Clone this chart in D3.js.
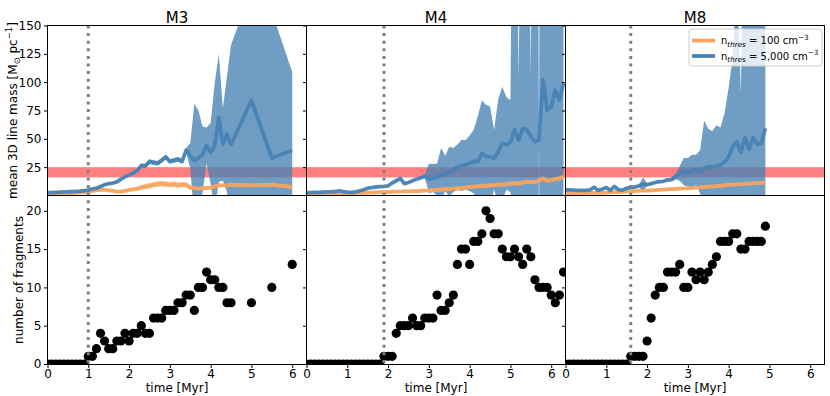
<!DOCTYPE html>
<html>
<head>
<meta charset="utf-8">
<script src="https://cdnjs.cloudflare.com/ajax/libs/d3/7.8.5/d3.min.js"></script>
<style>
  body { margin: 0; background: #fff; }
  svg { font-family: "DejaVu Sans", sans-serif; }
</style>
</head>
<body>
<svg id="chart" width="830" height="396"></svg>
<script>
// three models, one column each
var models = ["M3", "M4", "M8"];
// grey dotted line: onset of fragmentation [Myr]
var onset = [1.0, 1.9, 1.6];
// red band: critical line mass range
var critBand = [16, 25];

var xTicks = [0, 1, 2, 3, 4, 5, 6];
var massTicks = [25, 50, 75, 100, 125, 150];
var fragTicks = [0, 5, 10, 15, 20];

// ---------- M3 ----------
var timeM3 = [0,0.1,0.2,0.3,0.4,0.5,0.6,0.7,0.8,0.9, 1,1.1,1.2,1.3,1.4,1.5,1.6,1.7,1.8,1.9, 2,2.1,2.2,2.3,2.4,2.5,2.6,2.7,2.8,2.9, 3,3.1,3.2,3.3,3.4,3.5,3.6,3.7,3.8,3.9, 4,4.1,4.2,4.3,4.4,4.5, 5,5.5,6];
var massHiM3 = [2.5,2.6,2.8,3,3.2,3.3,3.5,3.7,3.9,4.2, 4.8,5.8,6.5,8,9.5,10.5,11,12,14.5,16.5, 18,20,22,26.5,26,30,29,28.5,31,34, 30,31,32,30,40,35,31,33,36,44, 38,44,69,45,54,45, 84,33,40];
var upperHiM3 = [3.3,3.4,3.6,3.8,4,4.1,4.3,4.5,4.7,5, 5.6,6.6,7.5,9,10.5,11.5,12,13,15.5,17.5, 19,21,23.5,28,28,32,31,30.5,33,36, 32,33,34,32,42,46,81,75,61,60, 64,99,125,77,105,133, 181,162,109];
var lowerHiM3 = [1.7,1.8,2,2.2,2.4,2.5,2.7,2.9,3.1,3.4, 4,5,5.5,7,8.5,9.5,10,11,13.5,15.5, 17,19,20.5,25,24,28,27,26.5,29,32, 28,29,30,28,38,24,-20,-10,2,28, 10,-13,12,13,3,-43, -13,-96,-29];
var massLoM3 = [1.5,1.6,1.7,1.8,1.9,2,2.1,2.3,2.5,2.7, 3,4,4.5,5,5,4.5,4,3.5,3.5,4, 5,5.5,6,7,8,8.5,9.5,10,10.5,10, 9.5,10,9,9.5,9.5,7,6.5,6,6.5,6.5, 7,8,9,9,9,9.5, 9,9.5,7.5];
var upperLoM3 = [2,2.1,2.2,2.3,2.4,2.5,2.6,2.8,3,3.2, 3.8,5,5.5,6,6,5.5,5,4.7,4.7,5.3, 6.5,7,7.8,9,10.3,11,12,12.5,13,12.5, 12,12.5,11.5,12,12,9,8,7.5,8,8, 8.5,9.5,10.5,10.5,10.5,11, 10.5,11,9];
var lowerLoM3 = [1,1.1,1.2,1.3,1.4,1.5,1.6,1.8,2,2.2, 2.2,3,3.5,4,4,3.5,3,2.3,2.3,2.7, 3.5,4,4.2,5,5.7,6,7,7.5,8,7.5, 7,7.5,6.5,7,7,5,5,4.5,5,5, 5.5,6.5,7.5,7.5,7.5,8, 7.5,8,6];
var fragM3 = [0,0,0,0,0,0,0,0,0,0, 1,1,2,4,3,2,2,3,3,4, 3,4,4,5,4,4,6,6,6,7, 7,7,8,8,9,9,7,10,10,12, 11,11,10,10,8,8, 8,10,13];

// ---------- M4 ----------
var timeM4 = [0,0.1,0.2,0.3,0.4,0.5,0.6,0.7,0.8,0.9, 1,1.1,1.2,1.3,1.4,1.5,1.6,1.7,1.8,1.9, 2,2.1,2.2,2.3,2.4,2.5,2.6,2.7,2.8,2.9, 3,3.1,3.2,3.3,3.4,3.5,3.6,3.7,3.8,3.9, 4,4.1,4.2,4.3,4.4,4.5,4.6,4.7,4.8,4.9, 5,5.1,5.2,5.3,5.4,5.5,5.6,5.7,5.8,5.9, 6,6.1,6.2,6.3];
var massHiM4 = [2.5,2.6,2.7,2.8,3,3.2,3.3,3.5,4,3.5, 3,2.8,3.2,4,5,6.5,7,7.5,7.8,8, 8.5,11,13,15,10.5,11.5,13,14.5,15.5,17, 14.5,15.5,16,18,19.5,21,22.5,25,26.5,27, 28.5,30,30,37,34.5,34,33,38.5,46,45, 47,58,49,59,58,52,47.5,49,102,75.5, 78.5,93,84,99];
var upperHiM4 = [3.3,3.4,3.5,3.6,3.8,4,4.1,4.3,4.8,4.3, 3.8,3.6,4,4.8,5.8,7.3,7.8,8.3,8.6,8.8, 9.3,11.8,13.8,15.8,11.3,12.3,13.8,15.3,16.3,18, 28,28,28,42,35,43,42,45,49,49, 53,58,70,84,80,78.5,58,85,96,87, 84,500,102,420,380,105,900,49.6,1100,600, 400,500,450,500];
var lowerHiM4 = [1.7,1.8,1.9,2,2.2,2.4,2.5,2.7,3.2,2.7, 2.2,2,2.4,3.2,4.2,5.7,6.2,6.7,7,7.2, 7.7,10.2,12.2,14.2,9.7,10.7,12.2,13.7,14.7,16, 2,3,0,-5,4,-1,3,5,4,5, 4,2,-10,-10,-11,-10,5,-8,-4,5, 3,-380,-4,-300,-260,1,-800,48.4,-900,-450, -240,-300,-280,-300];
var massLoM4 = [1,1.1,1.2,1.3,1.4,1.5,1.6,1.7,1.8,1.9, 2,2.1,2.2,2.3,2.4,2.5,2.6,2.8,2.9,3, 3.1,3.3,3.4,3.5,3.6,3.7,3.8,3.9,4.2,4.3, 4.5,4.8,5,5.3,5.5,5.8,6,6.3,6.5,7, 7.5,7.8,8,8.5,8.5,9,9,9.5,9.5,10, 10.5,11,10.5,11.5,12,11.5,12,13,15,13, 13.5,14.5,15,16.5];
var upperLoM4 = [1.7,1.8,1.9,2,2.1,2.2,2.3,2.4,2.5,2.6, 2.7,2.8,2.9,3,3.1,3.2,3.3,3.5,3.6,3.7, 3.8,4,4.1,4.2,4.3,4.4,4.5,4.6,4.9,5, 6.3,6.6,6.8,7.1,7.3,7.6,7.8,8.1,8.3,8.8, 9.3,9.6,9.8,10.3,10.3,10.8,10.8,11.3,11.3,11.8, 12.3,12.8,12.3,13.3,13.8,13.3,13.8,14.8,16.8,14.8, 15.3,16.3,16.8,18.3];
var lowerLoM4 = [0.3,0.4,0.5,0.6,0.7,0.8,0.9,1,1.1,1.2, 1.3,1.4,1.5,1.6,1.7,1.8,1.9,2.1,2.2,2.3, 2.4,2.6,2.7,2.8,2.9,3,3.1,3.2,3.5,3.6, 2.7,3,3.2,3.5,3.7,4,4.2,4.5,4.7,5.2, 5.7,6,6.2,6.7,6.7,7.2,7.2,7.7,7.7,8.2, 8.7,9.2,8.7,9.7,10.2,9.7,10.2,11.2,13.2,11.2, 11.7,12.7,13.2,14.7];
var fragM4 = [0,0,0,0,0,0,0,0,0,0, 0,0,0,0,0,0,0,0,0,1, 1,1,4,5,5,5,6,5,5,6, 6,6,9,7,7,8,9,13,15,15, 13,16,16,17,20,19,17,17,15,14, 14,15,14,13,15,14,11,10,10,10, 9,8,9,12];

// ---------- M8 ----------
var timeM8 = [0,0.1,0.2,0.3,0.4,0.5,0.6,0.7,0.8,0.9, 1,1.1,1.2,1.3,1.4,1.5,1.6,1.7,1.8,1.9, 2,2.1,2.2,2.3,2.4,2.5,2.6,2.7,2.8,2.9, 3,3.1,3.2,3.3,3.4,3.5,3.6,3.7,3.8,3.9, 4,4.1,4.2,4.3,4.4,4.5,4.6,4.7,4.8,4.9];
var massHiM8 = [5,5,4.8,4.5,4.5,4.5,5,7.3,4.5,5.5, 7,4.5,8,5,4.8,6.4,7,7.5,8.5,10, 9.5,10.5,11.5,12.3,12.5,13.8,14,16.7,19.5,21, 20.5,21.5,22.5,21,24,25.5,25,26,27,29.5, 34,43,47.5,38,51,41,51,45,46,59.4];
var upperHiM8 = [5.8,5.8,5.6,5.3,5.3,5.3,5.8,8.1,5.3,6.3, 7.8,5.3,8.8,5.8,5.6,7.2,7.8,8.3,9.3,16, 10.5,11.5,12.5,13.3,13.5,15,15.5,19,26,33, 33,36,36,40,66,59,57,62,60,73, 95,122,200,90,400,500,420,450,380,520];
var lowerHiM8 = [4.2,4.2,4,3.7,3.7,3.7,4.2,6.5,3.7,4.7, 6.2,3.7,7.2,4.2,4,5.6,6.2,6.7,7.7,3, 8.5,9.5,10.5,11.3,11.5,12.6,12.5,14.4,13,9, 8,7,9,2,-18,-8,-7,-10,-6,-14, -27,-36,-105,-14,-298,-418,-318,-360,-288,-400];
var massLoM8 = [2,2,2.1,2.1,2.2,2.2,2.3,2.3,2.4,2.4, 2.5,2.7,2.9,3.1,3.3,3.5,3.7,3.9,4.1,4.3, 4.4,4.6,4.8,5,5.2,5.4,5.6,5.8,6,6.2, 6.4,6.7,7,7.2,7.5,7.8,8,8.3,8.6,9, 9.4,9.6,9.8,10,10.3,10.5,10.8,11,11.2,11.4];
var upperLoM8 = [2.7,2.7,2.8,2.8,2.9,2.9,3,3,3.1,3.1, 3.2,3.4,3.6,3.8,4,4.2,4.4,4.6,4.8,5, 5.1,5.3,5.5,5.7,5.9,6.1,6.3,6.5,6.7,6.9, 7.1,7.4,7.7,7.9,8.2,9.3,9.5,9.8,10.1,10.5, 10.9,11.1,11.3,11.5,11.8,12,12.3,12.5,12.7,12.9];
var lowerLoM8 = [1.3,1.3,1.4,1.4,1.5,1.5,1.6,1.6,1.7,1.7, 1.8,2,2.2,2.4,2.6,2.8,3,3.2,3.4,3.6, 3.7,3.9,4.1,4.3,4.5,4.7,4.9,5.1,5.3,5.5, 5.7,6,6.3,6.5,6.8,6.3,6.5,6.8,7.1,7.5, 7.9,8.1,8.3,8.5,8.8,9,9.3,9.5,9.7,9.9];
var fragM8 = [0,0,0,0,0,0,0,0,0,0, 0,0,0,0,0,0,1,1,1,1, 3,6,9,10,10,12,12,12,13,10, 10,12,11,12,11,12,13,14,16,16, 16,17,17,15,15,16,16,16,16,18];

var series = [
  {time: timeM3, hi: massHiM3, hiUp: upperHiM3, hiLo: lowerHiM3, lo: massLoM3, loUp: upperLoM3, loLo: lowerLoM3, frag: fragM3},
  {time: timeM4, hi: massHiM4, hiUp: upperHiM4, hiLo: lowerHiM4, lo: massLoM4, loUp: upperLoM4, loLo: lowerLoM4, frag: fragM4},
  {time: timeM8, hi: massHiM8, hiUp: upperHiM8, hiLo: lowerHiM8, lo: massLoM8, loUp: upperLoM8, loLo: lowerLoM8, frag: fragM8}
];

var blue = "#4682b4", orange = "#f4a460";

// layout
var panelLeft = [47.5, 306.5, 565.5],
    panelW = 259,
    topY0 = 25.5, midY = 195.5, botY1 = 364.5;

var svg = d3.select("#chart");
var defs = svg.append("defs");

var yTop = d3.scaleLinear().domain([0, 150]).range([midY, topY0]);
var yBot = d3.scaleLinear().domain([0, 22]).range([364, midY]);

models.forEach(function(name, i) {
  var d = series[i];
  var x = d3.scaleLinear().domain([0, 6.35]).range([panelLeft[i], panelLeft[i] + panelW]);
  var idx = d3.range(d.time.length);

  defs.append("clipPath").attr("id", "clipTop" + i)
    .append("rect").attr("x", panelLeft[i]).attr("y", topY0)
    .attr("width", panelW).attr("height", midY - topY0);
  defs.append("clipPath").attr("id", "clipBot" + i)
    .append("rect").attr("x", panelLeft[i]).attr("y", midY)
    .attr("width", panelW).attr("height", botY1 - midY);

  // ****** top: line mass ******
  var gTop = svg.append("g").attr("clip-path", "url(#clipTop" + i + ")");

  gTop.append("rect")
    .attr("x", panelLeft[i]).attr("width", panelW)
    .attr("y", yTop(critBand[1])).attr("height", yTop(critBand[0]) - yTop(critBand[1]))
    .attr("fill", "red").attr("fill-opacity", 0.5);

  function band(up, lo) {
    return d3.area()
      .x(function(k) { return x(d.time[k]); })
      .y0(function(k) { return yTop(lo[k]); })
      .y1(function(k) { return yTop(up[k]); })(idx);
  }
  function line(v) {
    return d3.line()
      .x(function(k) { return x(d.time[k]); })
      .y(function(k) { return yTop(v[k]); })(idx);
  }

  gTop.append("path").attr("d", band(d.hiUp, d.hiLo))
    .attr("fill", blue).attr("fill-opacity", 0.78);
  gTop.append("path").attr("d", band(d.loUp, d.loLo))
    .attr("fill", orange).attr("fill-opacity", 0.5);
  gTop.append("path").attr("d", line(d.lo))
    .attr("fill", "none").attr("stroke", orange).attr("stroke-width", 3.8)
    .attr("stroke-opacity", 0.95).attr("stroke-linejoin", "round");
  gTop.append("path").attr("d", line(d.hi))
    .attr("fill", "none").attr("stroke", blue).attr("stroke-width", 3.8)
    .attr("stroke-opacity", 0.9).attr("stroke-linejoin", "round");

  // ****** bottom: fragments ******
  var gBot = svg.append("g").attr("clip-path", "url(#clipBot" + i + ")");
  gBot.selectAll("circle").data(idx).enter().append("circle")
    .attr("cx", function(k) { return x(d.time[k]); })
    .attr("cy", function(k) { return yBot(d.frag[k]); })
    .attr("r", 4.6)
    .attr("fill", "#000");

  // onset line across both panels
  svg.append("line")
    .attr("x1", x(onset[i])).attr("x2", x(onset[i]))
    .attr("y1", topY0).attr("y2", botY1)
    .attr("stroke", "#808080").attr("stroke-width", 3)
    .attr("stroke-dasharray", "3,4.6");

  // frames
  [[topY0, midY], [midY, botY1]].forEach(function(r) {
    svg.append("rect")
      .attr("x", panelLeft[i]).attr("y", r[0])
      .attr("width", panelW).attr("height", r[1] - r[0])
      .attr("fill", "none").attr("stroke", "#000").attr("stroke-width", 1);
  });

  // axes
  var aTop = d3.axisLeft(yTop).tickValues(massTicks).tickSize(3.5).tickPadding(2.5);
  var aBot = d3.axisLeft(yBot).tickValues(fragTicks).tickSize(3.5).tickPadding(2.5);
  if (i > 0) { aTop.tickFormat(""); aBot.tickFormat(""); }
  var gy1 = svg.append("g").attr("transform", "translate(" + panelLeft[i] + ",0)").call(aTop);
  var gy2 = svg.append("g").attr("transform", "translate(" + panelLeft[i] + ",0)").call(aBot);
  var gx = svg.append("g").attr("transform", "translate(0," + botY1 + ")")
    .call(d3.axisBottom(x).tickValues(xTicks).tickFormat(d3.format("d"))
      .tickSize(3.5).tickPadding(1.5));
  [gy1, gy2, gx].forEach(function(g) {
    g.select(".domain").remove();
    g.selectAll("text").attr("font-size", 12).attr("fill", "#000")
      .attr("font-family", "DejaVu Sans, sans-serif");
    g.selectAll("line").attr("stroke", "#000");
  });

  // title + x label
  svg.append("text")
    .attr("x", panelLeft[i] + panelW / 2).attr("y", 22.5)
    .attr("text-anchor", "middle").attr("font-size", 15).text(name);
  svg.append("text")
    .attr("x", panelLeft[i] + panelW / 2).attr("y", 392)
    .attr("text-anchor", "middle").attr("font-size", 12).text("time [Myr]");
});

// y labels
var yl = svg.append("text")
  .attr("transform", "translate(17," + (topY0 + midY) / 2 + ") rotate(-90)")
  .attr("text-anchor", "middle").attr("font-size", 12);
yl.append("tspan").text("mean 3D line mass [M");
yl.append("tspan").attr("font-size", 8.5).attr("dy", 3).text("\u2299");
yl.append("tspan").attr("dy", -3).text(" pc");
yl.append("tspan").attr("font-size", 8.5).attr("dy", -5).text("\u22121");
yl.append("tspan").attr("dy", 5).text("]");

svg.append("text")
  .attr("transform", "translate(23," + (midY + botY1) / 2 + ") rotate(-90)")
  .attr("text-anchor", "middle").attr("font-size", 12)
  .text("number of fragments");

// legend (in M8 top panel)
var leg = svg.append("g");
leg.append("rect")
  .attr("x", 689).attr("y", 29).attr("width", 133).attr("height", 37).attr("rx", 3)
  .attr("fill", "#fff").attr("fill-opacity", 0.8)
  .attr("stroke", "#ccc").attr("stroke-width", 1);
var legItems = [
  {color: orange, val: "100"},
  {color: blue, val: "5,000"}
];
legItems.forEach(function(it, j) {
  var yy = 40.5 + j * 15.5;
  leg.append("line")
    .attr("x1", 692).attr("x2", 715).attr("y1", yy).attr("y2", yy)
    .attr("stroke", it.color).attr("stroke-width", 3.8);
  var t = leg.append("text").attr("x", 721).attr("y", yy + 3.5).attr("font-size", 10);
  t.append("tspan").text("n");
  t.append("tspan").attr("font-size", 7.2).attr("font-style", "italic").attr("dy", 2.5).text("thres");
  t.append("tspan").attr("dy", -2.5).text(" = " + it.val + " cm");
  t.append("tspan").attr("font-size", 7.2).attr("dy", -4.5).text("\u22123");
});
</script>
</body>
</html>
